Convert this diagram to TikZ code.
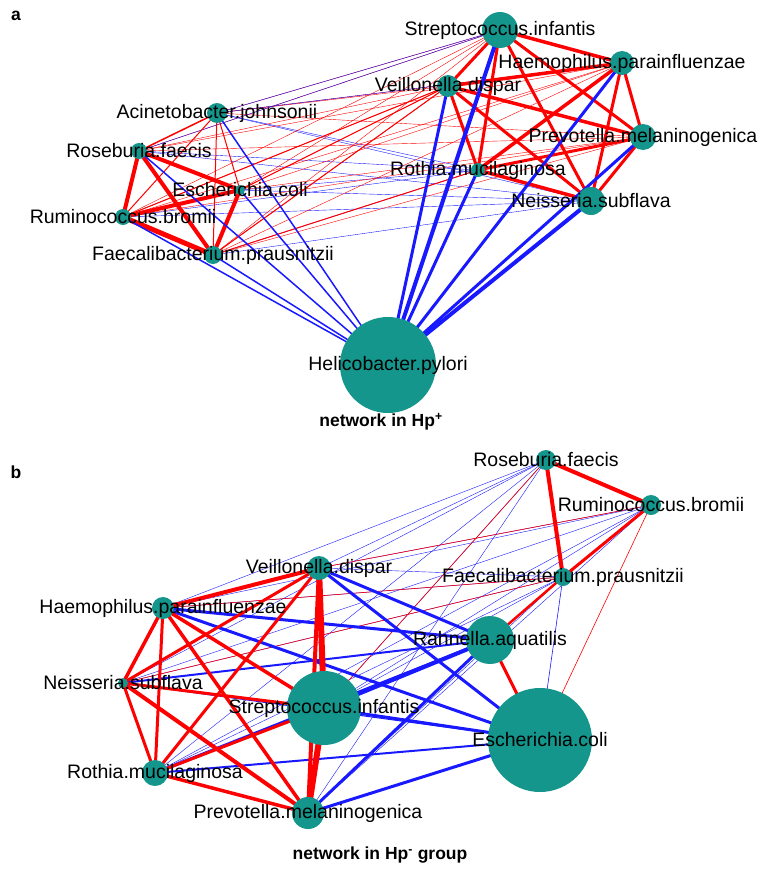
\documentclass[tikz,border=0pt]{standalone}
\usepackage{fontspec}
\setmainfont{Liberation Sans}
\definecolor{teal1}{RGB}{20,150,140}
\definecolor{ered}{RGB}{255,0,0}
\definecolor{eblue}{RGB}{25,25,255}
\begin{document}
\begin{tikzpicture}[x=1pt,y=-1pt,
  lab/.style={font=\fontsize{19.5}{22}\selectfont,inner sep=0pt},
  ttl/.style={font=\bfseries\fontsize{17.5}{20}\selectfont,inner sep=0pt},
  dot/.style={fill=teal1,draw=none}]
\useasboundingbox (0,0) rectangle (762,870);
% panel a coordinates
\coordinate (ASt) at (500,30); \coordinate (AHa) at (622,63);
\coordinate (AVe) at (448,86); \coordinate (APr) at (643,137);
\coordinate (ARo) at (478,170); \coordinate (ANe) at (591,201);
\coordinate (AAc) at (217,113); \coordinate (ARs) at (139,151);
\coordinate (AEc) at (240,190); \coordinate (ARu) at (123,217);
\coordinate (AFa) at (213,255); \coordinate (AHp) at (388,365);
% panel b coordinates
\coordinate (BVe) at (319,568); \coordinate (BHa) at (163,608);
\coordinate (BNe) at (123,683); \coordinate (BSt) at (324,708);
\coordinate (BRo) at (155,773); \coordinate (BPr) at (308,813);
\coordinate (BRs) at (546,460); \coordinate (BRu) at (651,505);
\coordinate (BFa) at (563,577); \coordinate (BRa) at (490,640);
\coordinate (BEc) at (540,740);
% cross thin edges a
\foreach \l in {AAc,ARs,AEc,ARu,AFa}{
  \foreach \r in {ASt,AVe,AHa,APr}{\draw[ered,line width=0.4] (\l) -- (\r);}
  \foreach \r in {ARo,ANe}{\draw[eblue,line width=0.4] (\l) -- (\r);}
}
\foreach \a/\b in {AAc/ASt,ARs/ASt,AAc/AHa}{\draw[eblue,line width=0.4] (\a) -- (\b);}
\foreach \a/\b in {AFa/AVe,ARu/AVe,AEc/AVe,AFa/ARo}{\draw[ered,line width=1] (\a) -- (\b);}
% left cluster a
\foreach \a/\b/\w in {AAc/ARs/1.5,AAc/AEc/1,AAc/ARu/1,AAc/AFa/1,ARs/AEc/4,ARs/ARu/4,ARs/AFa/4,AEc/ARu/4,AEc/AFa/4,ARu/AFa/5}
  {\draw[ered,line width=\w] (\a) -- (\b);}
% right cluster a
\foreach \a/\b/\w in {ASt/AHa/3.5,ASt/AVe/3,ASt/ARo/3,ASt/ANe/3,ASt/APr/3,AHa/AVe/3.5,AHa/ARo/3.5,AHa/ANe/3,AHa/APr/3,AVe/APr/3.5,AVe/ARo/3,AVe/ANe/3,APr/ARo/3,APr/ANe/3,ARo/ANe/3.5}
  {\draw[ered,line width=\w] (\a) -- (\b);}
% Hp blue
\foreach \b/\w in {ASt/4,AVe/3,ARo/3,AHa/3,ANe/4,APr/3,AFa/1.5,ARu/1.5,ARs/1.5,AAc/1.5,AEc/1.5}
  {\draw[eblue,line width=\w] (AHp) -- (\b);}
% panel b edges
\foreach \l in {BVe,BHa,BNe,BSt,BRo,BPr}{
  \foreach \r in {BRs,BRu,BFa}{\draw[eblue,line width=0.4] (\l) -- (\r);}
}
\foreach \a/\b in {BHa/BFa,BVe/BRu,BNe/BFa,BSt/BRs,BHa/BRa}{\draw[ered,line width=0.6] (\a) -- (\b);}
\foreach \a/\b/\w in {BVe/BRa/3,BVe/BEc/3,BHa/BRa/3,BHa/BEc/3,BNe/BRa/2,BSt/BRa/4,BSt/BEc/3,BRo/BRa/3,BRo/BEc/2,BPr/BRa/3,BPr/BEc/3,BNe/BEc/1,BFa/BEc/0.6}
  {\draw[eblue,line width=\w] (\a) -- (\b);}
\foreach \a/\b/\w in {BVe/BHa/4,BVe/BNe/3,BVe/BSt/6,BVe/BRo/3,BVe/BPr/4,BHa/BNe/3.5,BHa/BSt/3.5,BHa/BRo/3,BHa/BPr/3.5,BNe/BSt/3,BNe/BRo/3,BNe/BPr/4,BSt/BRo/3,BSt/BPr/6,BRo/BPr/3.5,
  BRs/BRu/4,BRs/BFa/4,BRu/BFa/3,BFa/BRa/2.5,BRa/BEc/3,BRu/BEc/0.6}
  {\draw[ered,line width=\w] (\a) -- (\b);}
% circles
\foreach \c/\r in {ASt/18,AHa/12,AVe/11,APr/13,ARo/7,ANe/14,AAc/10,ARs/8,AEc/5,ARu/8,AFa/9,AHp/48,
  BVe/12,BHa/11,BNe/5,BSt/37,BRo/13,BPr/16,BRs/10,BRu/10,BFa/9,BRa/24,BEc/52}
  {\fill[dot] (\c) circle (\r);}
% labels
\foreach \c/\t in {ASt/Streptococcus.infantis,AHa/Haemophilus.parainfluenzae,AVe/Veillonella.dispar,APr/Prevotella.melaninogenica,ARo/Rothia.mucilaginosa,ANe/Neisseria.subflava,AAc/Acinetobacter.johnsonii,ARs/Roseburia.faecis,AEc/Escherichia.coli,ARu/Ruminococcus.bromii,AFa/Faecalibacterium.prausnitzii,AHp/Helicobacter.pylori,
  BVe/Veillonella.dispar,BHa/Haemophilus.parainfluenzae,BNe/Neisseria.subflava,BSt/Streptococcus.infantis,BRo/Rothia.mucilaginosa,BPr/Prevotella.melaninogenica,BRs/Roseburia.faecis,BRu/Ruminococcus.bromii,BFa/Faecalibacterium.prausnitzii,BRa/Rahnella.aquatilis,BEc/Escherichia.coli}
  {\node[lab] (L\c) at (\c) {\t};}
\node[ttl] (ta) at (16,16) {a};
\node[ttl] (tb) at (16,472) {b};
\node[ttl] (na) at (381,422) {network in Hp\textsuperscript{+}};
\node[ttl] (nb) at (380,855) {network in Hp\textsuperscript{-} group};
\end{tikzpicture}
\end{document}
